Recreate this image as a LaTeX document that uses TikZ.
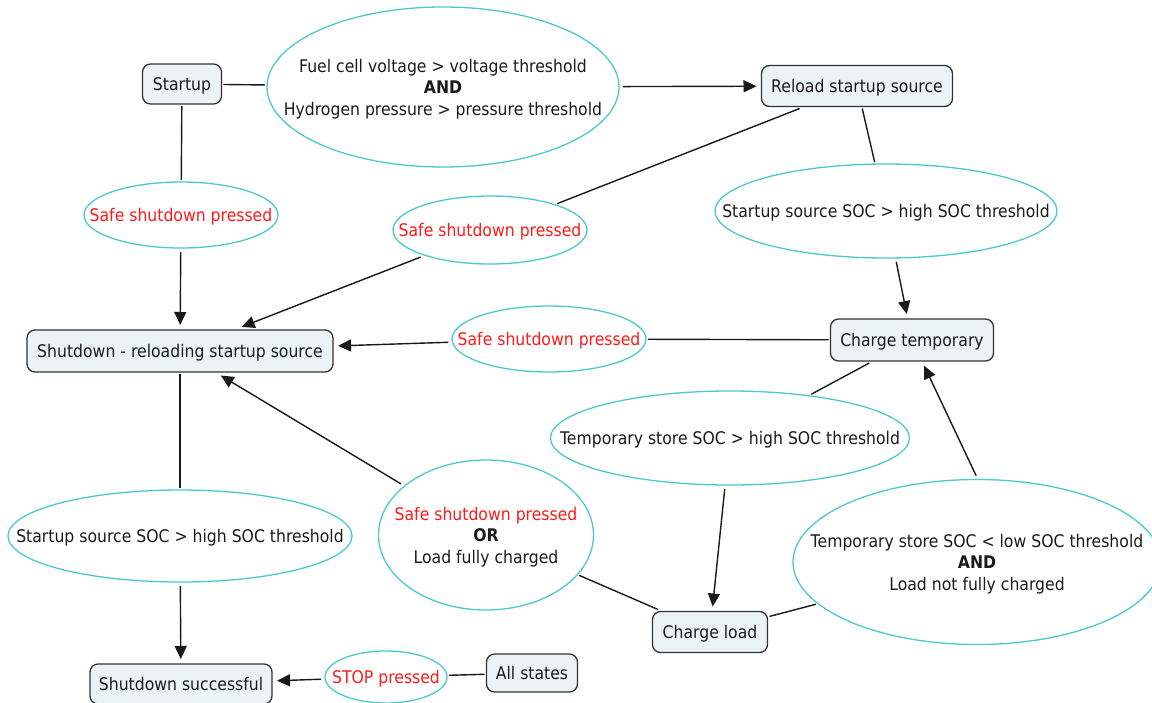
\documentclass[tikz,border=0pt]{standalone}
\usepackage{fontspec}
\setmainfont{DejaVu Sans}[FakeStretch=0.9]
\usetikzlibrary{shapes.geometric,arrows.meta}
\definecolor{boxfill}{HTML}{EBF3F5}
\definecolor{boxdraw}{HTML}{333333}
\definecolor{ellcol}{HTML}{4DC9CB}
\definecolor{txt}{HTML}{1A1A1A}
\definecolor{redtxt}{HTML}{FF1A1A}
\begin{document}
\begin{tikzpicture}[x=1pt,y=-1pt,
  font=\fontsize{17.4}{21.5}\selectfont,
  state/.style={draw=boxdraw, fill=boxfill, rounded corners=8pt, line width=1.3pt, inner sep=0pt, outer sep=2pt, text=txt, text depth=0pt},
  cond/.style={ellipse, draw=ellcol, fill=white, line width=1.3pt, inner xsep=-100pt, inner ysep=-40pt, outer sep=2pt, align=center, text=txt, text depth=0pt},
  link/.style={draw=txt, line width=1.4pt},
  arr/.style={link, -{Triangle[length=13pt,width=12pt]}, shorten >=3pt, shorten <=2pt},
  red/.style={text=redtxt}
]
\useasboundingbox (0,0) rectangle (1152,702);
\fill[white] (0,0) rectangle (1152,702);

% states
\node[state, minimum width=79pt, minimum height=40pt] (st) at (182,84) {Startup};
\node[state, minimum width=191pt, minimum height=41pt] (rl) at (857,86) {Reload startup source};
\node[state, minimum width=306pt, minimum height=42pt] (sd) at (180,351) {Shutdown - reloading startup source};
\node[state, minimum width=163pt, minimum height=42pt] (ct) at (912,340) {Charge temporary};
\node[state, minimum width=115pt, minimum height=41pt] (cl) at (710,632) {Charge load};
\node[state, minimum width=182pt, minimum height=40pt] (ss) at (181,684) {Shutdown successful};
\node[state, minimum width=91pt, minimum height=38pt] (as) at (532,673) {All states};

% conditions
\node[cond, minimum width=352pt, minimum height=160pt] (e1) at (443,87) {Fuel cell voltage > voltage threshold\\\textbf{AND}\\Hydrogen pressure > pressure threshold};
\node[cond, red, minimum width=194pt, minimum height=66pt] (e2) at (181,215) {Safe shutdown pressed};
\node[cond, red, minimum width=194pt, minimum height=68pt] (e3) at (490,230) {Safe shutdown pressed};
\node[cond, minimum width=342pt, minimum height=94pt] (e4) at (886,211) {Startup source SOC > high SOC threshold};
\node[cond, red, minimum width=194pt, minimum height=66pt] (e5) at (549,339) {Safe shutdown pressed};
\node[cond, minimum width=359pt, minimum height=94pt] (e6) at (730,438) {Temporary store SOC > high SOC threshold};
\node[cond, minimum width=344pt, minimum height=92pt] (e7) at (180,536) {Startup source SOC > high SOC threshold};
\node[cond, minimum width=215pt, minimum height=150pt] (e8) at (486,535) {\textcolor{redtxt}{Safe shutdown pressed}\\\textbf{OR}\\Load fully charged};
\node[cond, minimum width=368pt, minimum height=165pt] (e9) at (977,562) {Temporary store SOC < low SOC threshold\\\textbf{AND}\\Load not fully charged};
\node[cond, red, minimum width=122pt, minimum height=52pt] (e10) at (386,677) {STOP pressed};

% connectors
\draw[link] (st) -- (e1);
\draw[arr] (e1) -- (rl);
\draw[link] (st) -- (e2);
\draw[arr] (e2) -- (sd);
\draw[link] (rl) -- (e3);
\draw[arr] (e3) -- (sd);
\draw[link] (rl) -- (e4);
\draw[arr] (e4) -- (ct);
\draw[link] (ct) -- (e5);
\draw[arr] (e5) -- (sd);
\draw[link] (ct) -- (e6);
\draw[arr] (e6) -- (cl);
\draw[link] (sd) -- (e7);
\draw[arr] (e7) -- (ss);
\draw[link] (cl) -- (e8);
\draw[arr] (e8) -- (sd);
\draw[link] (cl) -- (e9);
\draw[arr] (e9.north) -- (ct);
\draw[link] (as) -- (e10);
\draw[arr] (e10) -- (ss);
\end{tikzpicture}
\end{document}
